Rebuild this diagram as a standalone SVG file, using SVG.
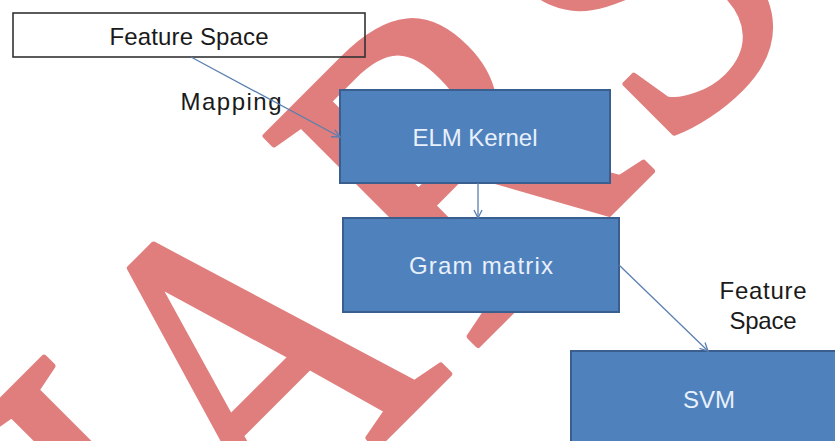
<svg xmlns="http://www.w3.org/2000/svg" width="835" height="441" viewBox="0 0 835 441">
  <style>
    .lbl { font-family: "Liberation Sans", Arial, sans-serif; font-size: 24px; fill: #1a1a1a; text-anchor: middle; }
    .in { font-family: "Liberation Sans", Arial, sans-serif; font-size: 24px; fill: #e8f0fb; text-anchor: middle; }
    .blue { fill: #4f81bd; stroke: #3a5f8e; stroke-width: 2; }
    .edge { fill: none; stroke: #5b7fb0; stroke-width: 1.3; marker-end: url(#arr); }
    .mark { font-family: "Liberation Serif", "Times New Roman", serif; font-size: 455px; fill: #e07e7d; stroke: #e07e7d; stroke-width: 6; stroke-linejoin: round; }
  </style>
  <defs>
    <marker id="arr" viewBox="0 0 10 10" refX="9" refY="5" markerWidth="10" markerHeight="10" markerUnits="userSpaceOnUse" orient="auto">
      <path d="M1,1 L9,5 L1,9" fill="none" stroke="#5b7fb0" stroke-width="1.3"/>
    </marker>
  </defs>
  <rect width="835" height="441" fill="#ffffff"/>

  <!-- background stamp lettering, laid along a 45° baseline -->
  <g transform="translate(411.5,411.5) rotate(-45)">
    <text class="mark" transform="translate(-362,0) scale(0.84,1)">J</text>
    <text class="mark" transform="translate(-213,0) scale(0.82,1)">A</text>
    <text class="mark" transform="translate(80,0) scale(0.86,1)">R</text>
    <text class="mark" transform="translate(356,0) scale(0.86,1)">S</text>
  </g>

  <g id="feature-space">
    <rect x="13" y="13" width="352" height="44" fill="none" stroke="#333333" stroke-width="1.6"/>
    <text class="lbl" x="189" y="45" textLength="159">Feature Space</text>
  </g>

  <g id="mapping-label">
    <text class="lbl" x="231" y="110" textLength="101">Mapping</text>
  </g>

  <g id="elm-kernel">
    <rect class="blue" x="340" y="90" width="270" height="93"/>
    <text class="in" x="475" y="146" textLength="125">ELM Kernel</text>
  </g>

  <g id="gram-matrix">
    <rect class="blue" x="343" y="218" width="276" height="94"/>
    <text class="in" x="481" y="274" textLength="144">Gram matrix</text>
  </g>

  <g id="feature-space-label">
    <text class="lbl" x="763" y="299" textLength="87">Feature</text>
    <text class="lbl" x="763" y="329" textLength="67">Space</text>
  </g>

  <g id="svm">
    <rect class="blue" x="571" y="351" width="276" height="96"/>
    <text class="in" x="709" y="408" textLength="52">SVM</text>
  </g>

  <g id="connectors">
    <path class="edge" d="M191,57 L340,137"/>
    <path class="edge" d="M478,183 L478,218"/>
    <path class="edge" d="M619,265 L708,351"/>
  </g>
</svg>
